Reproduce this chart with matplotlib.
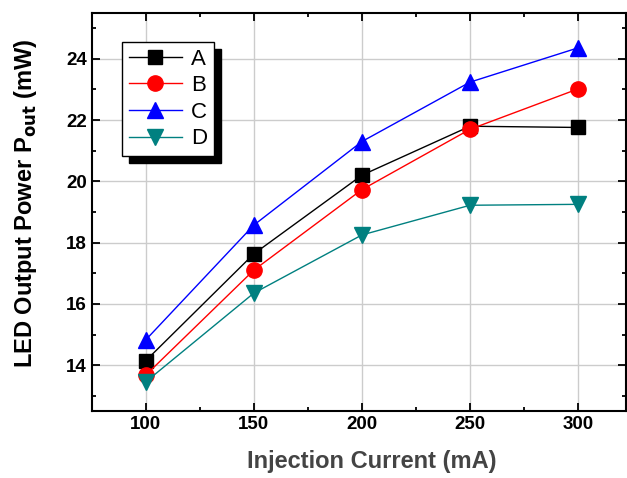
import matplotlib
matplotlib.use("Agg")
import matplotlib.pyplot as plt

plt.rcParams['font.family'] = ['Liberation Sans', 'DejaVu Sans']

current = [100, 150, 200, 250, 300]
power_a = [14.14, 17.63, 20.2, 21.8, 21.76]
power_b = [13.67, 17.1, 19.73, 21.7, 23.02]
power_c = [14.82, 18.57, 21.3, 23.24, 24.36]
power_d = [13.45, 16.35, 18.25, 19.22, 19.25]
labels = ['A', 'B', 'C', 'D']

fig = plt.figure(figsize=(6.27, 4.78), dpi=100)
ax = fig.add_axes([0.1467, 0.140, 0.852, 0.833])

teal = '#008080'
ax.plot(current, power_a, '-s', color='k', lw=1, ms=10, label=labels[0])
ax.plot(current, power_b, '-o', color='red', lw=1, ms=11, label=labels[1])
ax.plot(current, power_c, '-^', color='blue', lw=1, ms=12, label=labels[2])
ax.plot(current, power_d, '-v', color=teal, lw=1, ms=12, label=labels[3])

ax.set_xlim(75.2, 322.2)
ax.set_ylim(12.5, 25.5)
ax.set_xticks(current)
ax.set_xticks([125, 175, 225, 275], minor=True)
ax.set_yticks([14, 16, 18, 20, 22, 24])
ax.set_yticks([13, 15, 17, 19, 21, 23, 25], minor=True)
ax.grid(True, which='major', color='#cccccc', lw=1)
ax.set_axisbelow(True)

ax.tick_params(which='both', direction='in', top=True, right=True, width=1.3)
ax.tick_params(which='major', length=6, labelsize=13.5)
ax.tick_params(which='minor', length=3)
for lab in ax.get_xticklabels() + ax.get_yticklabels():
    lab.set_fontweight('bold')
for sp in ax.spines.values():
    sp.set_linewidth(1.5)

ax.set_xlabel('Injection Current (mA)', fontsize=17, fontweight='bold', color='#444444')
ax.set_ylabel(r'LED Output Power P$_{\mathbf{out}}$ (mW)', fontsize=17, fontweight='bold')
ax.xaxis.set_label_coords(0.524, -0.098)
ax.yaxis.set_label_coords(-0.1, 0.522)

leg = ax.legend(loc='upper left', bbox_to_anchor=(0.056, 0.927), borderaxespad=0,
                fontsize=16, frameon=True, fancybox=False, edgecolor='k',
                shadow={'color': 'k', 'alpha': 1, 'ox': 5, 'oy': -5},
                handlelength=2.4, handletextpad=0.4, labelspacing=0.25, borderpad=0.3)
leg.get_frame().set_linewidth(1)

fig.savefig('out.png', dpi=100)
